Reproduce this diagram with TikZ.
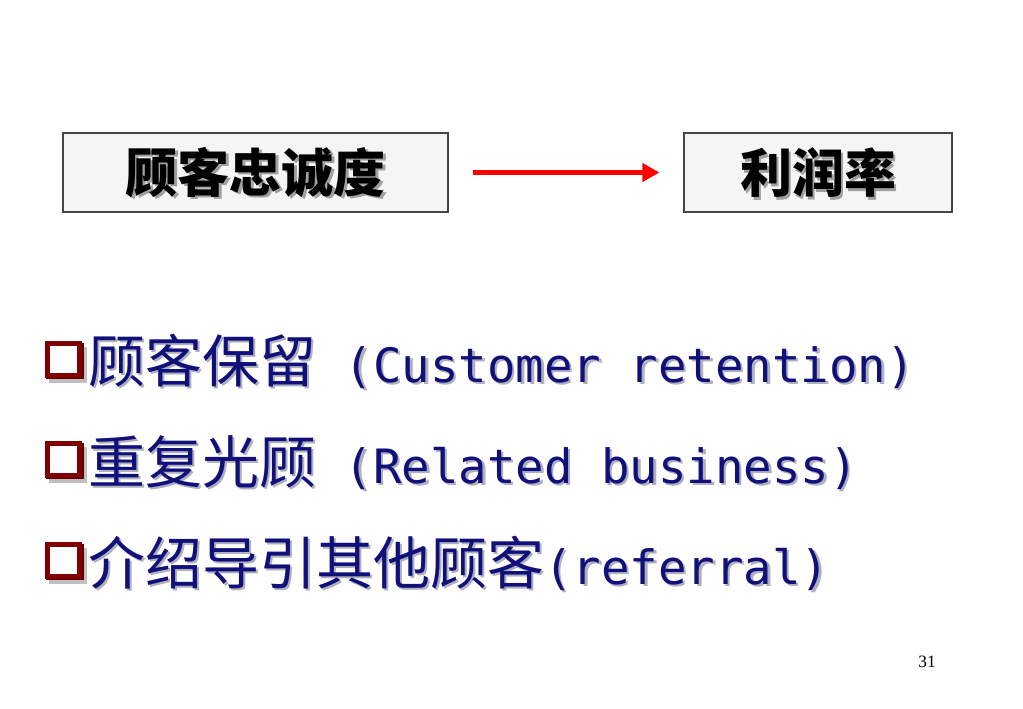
\documentclass[tikz,border=0pt]{standalone}
\usepackage{fontspec}
\usetikzlibrary{arrows.meta}
\newfontfamily\cjk{Noto Sans CJK SC}
\newfontfamily\latmono{DejaVu Sans Mono}
\setmainfont{Liberation Serif}
\definecolor{navytxt}{RGB}{16,16,122}
\definecolor{bulletred}{RGB}{128,0,0}
\definecolor{bulletdark}{RGB}{90,0,0}
\definecolor{boxfill}{RGB}{245,245,245}
\definecolor{boxline}{RGB}{70,70,70}
\definecolor{shadowgray}{RGB}{175,175,190}
\definecolor{titleshadowgray}{RGB}{160,160,160}
\tikzset{
  box/.style={draw=boxline, line width=0.9pt, fill=boxfill, inner sep=0pt},
  titletxt/.style={inner sep=0pt, font={\cjk\bfseries\fontsize{39pt}{39pt}\selectfont}, text=black},
  itemtxt/.style={inner sep=0pt, anchor=base west, text=navytxt, font={\cjk\fontsize{42.75pt}{42.75pt}\selectfont}},
  redarrow/.style={draw=red, line width=3.6pt, -{Triangle[length=12.75pt,width=13.5pt]}, shorten <=18pt, shorten >=18pt},
  bulletsq/.style={draw=bulletred, line width=4.2pt, fill=white},
  bulletshade/.style={fill=bulletdark},
  bulletgray/.style={fill=black!25},
  pagenum/.style={inner sep=0pt, font={\fontsize{13pt}{13pt}\selectfont}},
}
\newcommand\lat[1]{{\latmono\fontsize{35.5pt}{35.5pt}\selectfont #1}}
\newcommand\shad[2]{\makebox[0pt][l]{\hspace{1.9pt}\raisebox{-1.9pt}[0pt][0pt]{\color{#1}#2}}#2}
\begin{document}
\begin{tikzpicture}[x=0.75pt,y=-0.75pt]
\useasboundingbox[fill=white] (0,0) rectangle (1023,708);
% boxes
\node[box, minimum width=288.75pt, minimum height=59.25pt] (b1) at (255.5,172.5) {};
\node[box, minimum width=201pt, minimum height=59.25pt] (b2) at (818,172.5) {};
\node[titletxt] (t1) at (b1.center) {\shad{titleshadowgray}{顾客忠诚度}};
\node[titletxt] (t2) at (b2.center) {\shad{titleshadowgray}{利润率}};
\draw[redarrow] (b1.east) -- (b2.west);
% bullets
\foreach \n/\y in {1/361,2/461,3/562}{
  \fill[bulletgray] (49,\y-14) rectangle (87,\y+22);
  \fill[bulletshade] (46,\y-18) rectangle (84,\y+18);
  \draw[bulletsq] (47.5,\y-17.5) rectangle (79.5,\y+14.5);
}
% item texts
\node[itemtxt] (i1) at (88,382) {\shad{shadowgray}{顾客保留\lat{ (Customer retention)}}};
\node[itemtxt] (i2) at (88,483) {\shad{shadowgray}{重复光顾\lat{ (Related business)}}};
\node[itemtxt] (i3) at (88,584) {\shad{shadowgray}{介绍导引其他顾客\lat{(referral)}}};
% page number
\node[pagenum] (pg) at (927,662) {31};
\end{tikzpicture}
\end{document}
